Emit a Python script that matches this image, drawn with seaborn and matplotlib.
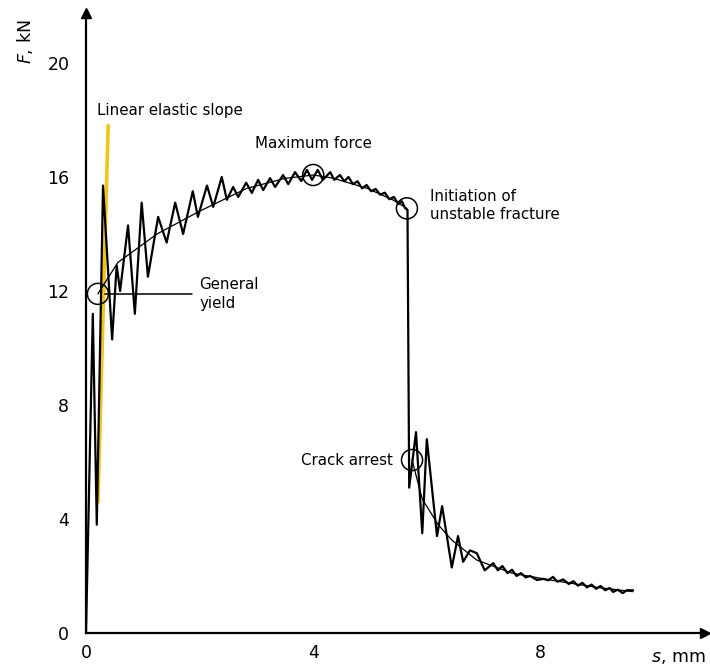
import numpy as np
import pandas as pd
import matplotlib
matplotlib.use("Agg")
import matplotlib.pyplot as plt
import seaborn as sns

# ---- data ----
s_record = [0.0, 0.12, 0.19, 0.30, 0.46, 0.54, 0.60, 0.74, 0.86, 0.98, 1.09, 1.27, 1.42,
            1.57, 1.71, 1.88, 1.97, 2.13, 2.24, 2.39, 2.48, 2.59, 2.68, 2.82, 2.92, 3.03,
            3.12, 3.24, 3.33, 3.47, 3.56, 3.68, 3.79, 3.89, 3.98, 4.08, 4.17, 4.30, 4.37,
            4.47, 4.55, 4.62, 4.70, 4.78, 4.86, 4.94, 5.02, 5.10, 5.18, 5.26, 5.34, 5.42,
            5.50, 5.56, 5.62, 5.66, 5.69, 5.81, 5.92, 6.00, 6.18, 6.27, 6.44, 6.55, 6.64,
            6.76, 6.88, 7.02, 7.17, 7.25, 7.33, 7.42, 7.50, 7.58, 7.66, 7.74, 7.82, 7.94,
            8.05, 8.14, 8.22, 8.30, 8.40, 8.50, 8.58, 8.66, 8.74, 8.82, 8.90, 8.98, 9.06,
            9.14, 9.22, 9.28, 9.36, 9.45, 9.52, 9.63]
F_record = [0.0, 11.2, 3.8, 15.7, 10.3, 12.9, 12.0, 14.3, 11.2, 15.1, 12.5, 14.6, 13.7,
            15.1, 14.0, 15.5, 14.6, 15.7, 14.95, 16.0, 15.2, 15.65, 15.3, 15.8, 15.44, 15.9,
            15.54, 15.96, 15.65, 16.07, 15.75, 16.17, 15.86, 16.25, 15.9, 16.25, 15.9, 16.17, 15.9,
            16.07, 15.85, 16.0, 15.75, 15.85, 15.6, 15.72, 15.5, 15.58, 15.38, 15.45, 15.22, 15.3,
            15.05, 15.15, 14.9, 14.85, 5.1, 7.05, 3.5, 6.8, 3.4, 4.45, 2.3, 3.4, 2.5,
            2.9, 2.8, 2.2, 2.45, 2.2, 2.35, 2.1, 2.22, 2.0, 2.1, 1.95, 2.0, 1.86,
            1.9, 1.85, 1.97, 1.8, 1.88, 1.72, 1.82, 1.66, 1.76, 1.6, 1.7, 1.55, 1.65,
            1.5, 1.58, 1.44, 1.52, 1.4, 1.5, 1.5]

s_fit1 = [0.21, 0.56, 1.25, 2.0, 2.83, 3.5, 4.0, 4.35, 4.95, 5.4, 5.65]
F_fit1 = [11.9, 13.0, 14.0, 14.8, 15.6, 15.95, 16.07, 15.96, 15.6, 15.2, 14.9]
s_fit2 = [5.74, 5.92, 6.2, 6.44, 6.88, 7.5, 8.2, 9.0, 9.63]
F_fit2 = [6.07, 4.7, 3.8, 3.26, 2.56, 2.1, 1.85, 1.6, 1.45]

s_elastic = [0.21, 0.39]
F_elastic = [4.6, 17.8]

point_names = ["General yield", "Maximum force", "Initiation of unstable fracture", "Crack arrest"]
s_points = [0.21, 4.0, 5.65, 5.74]
F_points = [11.9, 16.07, 14.9, 6.07]

x_ticks = [0, 4, 8]
y_ticks = [0, 4, 8, 12, 16, 20]

# ---- figure ----
sns.set_style("white")
plt.rcParams["font.family"] = ["DejaVu Sans"]
plt.rcParams["text.color"] = "black"

W, H = 710, 666
fig = plt.figure(figsize=(W / 100, H / 100), dpi=100)
x0, y0, x1, y1 = 86, 633, 705, 13
ax = fig.add_axes([x0 / W, 1 - y0 / H, (x1 - x0) / W, (y0 - y1) / H])
ax.set_xlim(0, (x1 - x0) / 56.8)
ax.set_ylim(0, (y0 - y1) / 28.5)

rec = pd.DataFrame({"s": s_record, "F": F_record})
fit1 = pd.DataFrame({"s": s_fit1, "F": F_fit1})
fit2 = pd.DataFrame({"s": s_fit2, "F": F_fit2})
ela = pd.DataFrame({"s": s_elastic, "F": F_elastic})
pts = pd.DataFrame({"s": s_points, "F": F_points, "name": point_names})

sns.lineplot(data=ela, x="s", y="F", color="#f2c318", lw=2.6, sort=False,
             estimator=None, ax=ax, zorder=2)
sns.lineplot(data=rec, x="s", y="F", color="black", lw=1.6, sort=False,
             estimator=None, ax=ax, zorder=3)
sns.lineplot(data=fit1, x="s", y="F", color="black", lw=0.9, sort=False,
             estimator=None, ax=ax, zorder=4)
sns.lineplot(data=fit2, x="s", y="F", color="black", lw=0.9, sort=False,
             estimator=None, ax=ax, zorder=4)
sns.scatterplot(data=pts, x="s", y="F", s=230, marker="o", facecolors="none",
                edgecolor="black", linewidth=1.1, ax=ax, zorder=5)

# general-yield leader line
ax.plot([0.33, 1.86], [11.9, 11.9], color="black", lw=1.1, zorder=4)

# annotations
fs = 10.8
ax.text(0.2, 18.35, "Linear elastic slope", fontsize=fs, va="center", ha="left", color="black")
ax.text(4.0, 16.9, "Maximum force", fontsize=fs, va="bottom", ha="center", color="black")
ax.text(6.05, 15.0, "Initiation of\nunstable fracture", fontsize=fs, va="center",
        ha="left", linespacing=1.3, color="black")
ax.text(2.0, 11.9, "General\nyield", fontsize=fs, va="center", ha="left", linespacing=1.3,
        color="black")
ax.text(5.4, 6.07, "Crack arrest", fontsize=fs, va="center", ha="right", color="black")

# axes styling
sns.despine(ax=ax)
for sp in ["left", "bottom"]:
    ax.spines[sp].set_linewidth(1.6)
    ax.spines[sp].set_color("black")
ax.plot(1, 0, ">", color="black", ms=7, transform=ax.transAxes, clip_on=False)
ax.plot(0, 1, "^", color="black", ms=7, transform=ax.transAxes, clip_on=False)

ax.set_xticks(x_ticks)
ax.set_yticks(y_ticks)
ax.set_xticklabels([str(v) for v in x_ticks])
ax.set_yticklabels([str(v) for v in y_ticks])
ax.tick_params(axis="both", direction="in", length=9, width=1.3, labelsize=12.5,
               colors="black", pad=8)
ax.tick_params(axis="y", pad=12)
ax.set_xlabel("")
ax.set_ylabel("")

fig.text(25 / W, 1 - 42 / H, "$\\it{F}$, kN", rotation=90, fontsize=12.5,
         ha="center", va="center", color="black")
fig.text(678 / W, 1 - 657 / H, "$\\it{s}$, mm", fontsize=12.5, ha="center", va="center",
         color="black")

fig.savefig("out.png", dpi=100)
